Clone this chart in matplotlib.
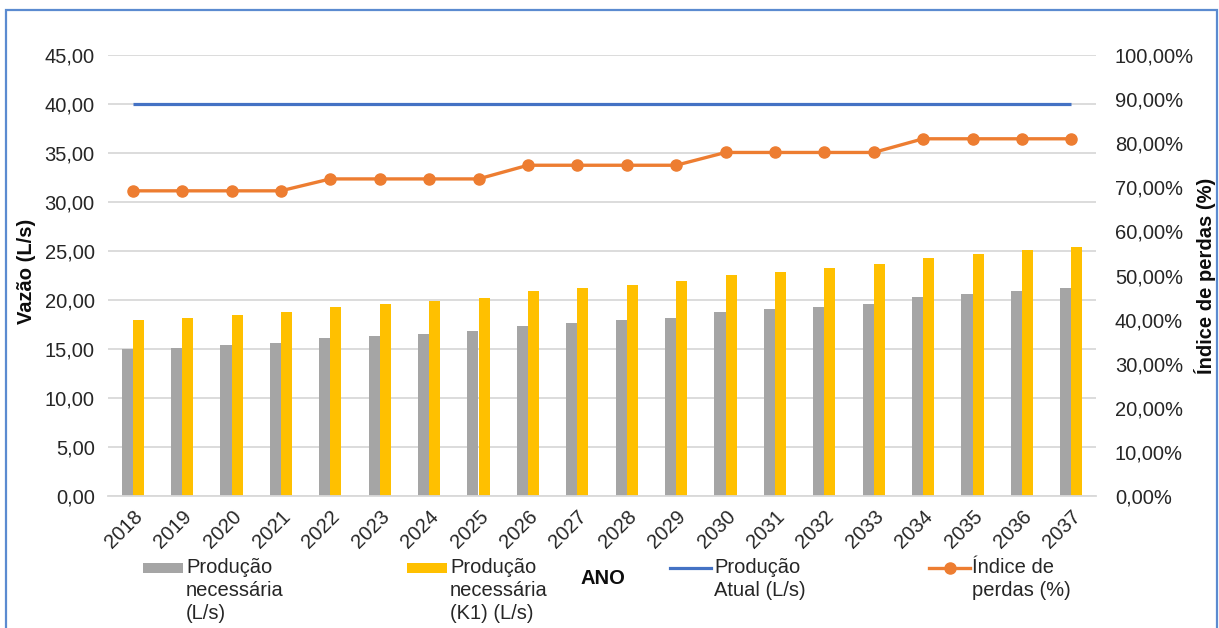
import matplotlib
matplotlib.use("Agg")
import matplotlib.pyplot as plt
from matplotlib.patches import Rectangle
from matplotlib.lines import Line2D
from matplotlib.ticker import FuncFormatter, MultipleLocator

plt.rcParams['font.family'] = ['Liberation Sans', 'DejaVu Sans']

# Data
anos = ['2018', '2019', '2020', '2021', '2022', '2023', '2024', '2025', '2026', '2027',
        '2028', '2029', '2030', '2031', '2032', '2033', '2034', '2035', '2036', '2037']
producao_necessaria = [14.95, 15.12, 15.40, 15.60, 16.10, 16.35, 16.57, 16.87, 17.35, 17.65,
                       17.95, 18.15, 18.75, 19.05, 19.32, 19.60, 20.30, 20.57, 20.90, 21.18]
producao_k1 = [17.95, 18.15, 18.45, 18.75, 19.33, 19.60, 19.90, 20.17, 20.88, 21.18,
               21.48, 21.89, 22.57, 22.84, 23.24, 23.65, 24.32, 24.73, 25.10, 25.44]
producao_atual = [40.00, 40.00, 40.00, 40.00, 40.00, 40.00, 40.00, 40.00, 40.00, 40.00,
                  40.00, 40.00, 40.00, 40.00, 40.00, 40.00, 40.00, 40.00, 40.00, 40.00]
indice_perdas = [0.692, 0.692, 0.692, 0.692, 0.719, 0.719, 0.719, 0.719, 0.750, 0.750,
                 0.750, 0.750, 0.779, 0.779, 0.779, 0.779, 0.810, 0.810, 0.810, 0.810]

C_GRAY = '#A5A5A5'
C_YEL = '#FFC000'
C_BLUE = '#4472C4'
C_ORG = '#ED7D31'
C_GRID = '#D9D9D9'
FS = 14.5

W, H = 1219, 628
fig = plt.figure(figsize=(W / 100, H / 100), dpi=100)
fig.patch.set_facecolor('white')

def px(x, y):
    return x / W, 1 - y / H

ax = fig.add_axes([108 / W, 1 - 496 / H, (1096 - 108) / W, (496 - 55) / H])
ax2 = ax.twinx()

x = list(range(len(anos)))
bw = 0.223
ax.bar([i - bw / 2 for i in x], producao_necessaria, width=bw, color=C_GRAY, zorder=2)
ax.bar([i + bw / 2 for i in x], producao_k1, width=bw, color=C_YEL, zorder=2)
ax.plot(x, producao_atual, color=C_BLUE, lw=2.3, zorder=3, solid_capstyle='butt')
ax2.plot(x, indice_perdas, color=C_ORG, lw=2.4, marker='o', markersize=8,
         zorder=3)

ax.set_xlim(-0.5, len(anos) - 0.5)
ax.set_ylim(0, 45)
ax2.set_ylim(0, 1.0)
ax.yaxis.set_major_locator(MultipleLocator(5))
ax2.yaxis.set_major_locator(MultipleLocator(0.1))
ax.yaxis.set_major_formatter(FuncFormatter(lambda v, p: f"{v:.2f}".replace('.', ',')))
ax2.yaxis.set_major_formatter(FuncFormatter(lambda v, p: f"{v * 100:.2f}%".replace('.', ',')))

ax.grid(axis='y', color=C_GRID, lw=1.3, zorder=0)
ax.set_axisbelow(True)
for a in (ax, ax2):
    for s in a.spines.values():
        s.set_visible(False)
ax.spines['bottom'].set_visible(True)
ax.spines['bottom'].set_color(C_GRID)
ax.spines['bottom'].set_linewidth(1.3)

ax.set_xticks(x)
ax.set_xticklabels(anos, rotation=45, ha='right', va='top', rotation_mode='anchor')
ax.tick_params(axis='x', length=0, pad=8, labelsize=FS, colors='#262626')
ax.tick_params(axis='y', length=0, pad=9.5, labelsize=FS, colors='#262626')
ax2.tick_params(axis='y', length=0, pad=13.5, labelsize=FS, colors='#262626')

# Axis titles
fig.text(*px(26, 271), 'Vazão (L/s)', rotation=90, ha='center', va='center',
         fontsize=FS, fontweight='bold', color='#0D0D0D')
fig.text(*px(1205, 276), 'Índice de perdas (%)', rotation=90, ha='center', va='center',
         fontsize=FS, fontweight='bold', color='#0D0D0D')
fig.text(*px(603, 578), 'ANO', ha='center', va='center',
         fontsize=FS, fontweight='bold', color='#0D0D0D')

# Legend
ly = 568
fig.patches.append(Rectangle(px(143, ly + 5), 40 / W, 10 / H, transform=fig.transFigure,
                             facecolor=C_GRAY, edgecolor='none'))
fig.patches.append(Rectangle(px(407, ly + 5), 40 / W, 10 / H, transform=fig.transFigure,
                             facecolor=C_YEL, edgecolor='none'))
fig.lines.append(Line2D([670 / W, 711 / W], [1 - ly / H] * 2, transform=fig.transFigure,
                        color=C_BLUE, lw=2.3))
fig.lines.append(Line2D([929 / W, 970 / W], [1 - ly / H] * 2, transform=fig.transFigure,
                        color=C_ORG, lw=2.4))
fig.lines.append(Line2D([949.5 / W], [1 - ly / H], transform=fig.transFigure,
                        color=C_ORG, marker='o', markersize=8, lw=0))
leg_txt = [(186, 'Produção\nnecessária\n(L/s)'),
           (450, 'Produção\nnecessária\n(K1) (L/s)'),
           (714, 'Produção\nAtual (L/s)'),
           (972, 'Índice de\nperdas (%)')]
for lx, t in leg_txt:
    fig.text(*px(lx, 558), t, ha='left', va='top', fontsize=FS, color='#262626',
             linespacing=1.28)

# Chart frame
fig.patches.append(Rectangle(px(6, 700), (1217 - 6) / W, (700 - 10) / H,
                             transform=fig.transFigure, facecolor='none',
                             edgecolor='#5B8BD0', lw=1.6, clip_on=False))

fig.savefig('out.png', dpi=100, facecolor='white')
